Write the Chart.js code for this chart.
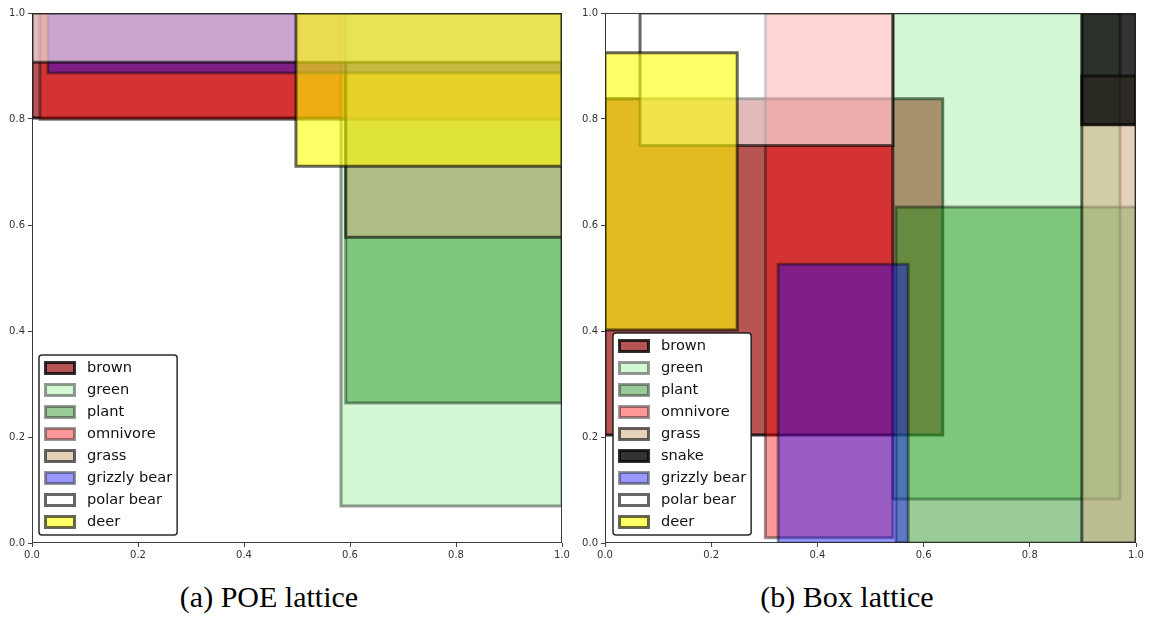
<!DOCTYPE html>
<html>
<head>
<meta charset="utf-8">
<script src="https://cdn.jsdelivr.net/npm/chart.js@4/dist/chart.umd.min.js"></script>
<style>
  html, body { margin: 0; padding: 0; background: #fff; }
  body { width: 1152px; height: 618px; position: relative; overflow: hidden; }
  .panel { position: absolute; top: 0; width: 576px; height: 570px; }
  .caption {
    position: absolute; top: 581px;
    font-family: "Liberation Serif", "Times New Roman", serif;
    font-size: 30px; line-height: 32px; color: #000;
    white-space: nowrap; transform: translateX(-50%);
  }
</style>
</head>
<body>
<div class="panel" style="left:0"><canvas id="poe" width="576" height="570"></canvas></div>
<div class="panel" style="left:576px"><canvas id="box" width="576" height="570"></canvas></div>
<div class="caption" style="left:269px">(a) POE lattice</div>
<div class="caption" style="left:847px">(b) Box lattice</div>
<script>
// Left panel: order-embedding cones; each one runs from its lower-left corner up to (1, 1)
const poeLabels = ['brown', 'green', 'plant', 'omnivore', 'grass', 'grizzly bear', 'polar bear', 'deer'];
const poeXMin = [0.000, 0.583, 0.592, 0.015, 0.592, 0.030, 0.000, 0.498];
const poeYMin = [0.802, 0.070, 0.264, 0.799, 0.577, 0.887, 0.907, 0.711];

// Right panel: axis-aligned boxes
const boxLabels = ['brown', 'green', 'plant', 'omnivore', 'grass', 'snake', 'grizzly bear', 'polar bear', 'deer'];
const boxXMin = [0.000, 0.542, 0.548, 0.302, 0.898, 0.898, 0.326, 0.066, 0.000];
const boxXMax = [0.636, 0.970, 1.000, 0.542, 1.000, 1.000, 0.571, 0.542, 0.249];
const boxYMin = [0.204, 0.083, 0.000, 0.010, 0.000, 0.789, 0.000, 0.750, 0.402];
const boxYMax = [0.838, 1.000, 0.634, 1.000, 0.881, 1.000, 0.526, 1.000, 0.925];

// Shared axis ticks
const axisTicks = [0, 0.2, 0.4, 0.6, 0.8, 1.0];
const tickLabels = ['0.0', '0.2', '0.4', '0.6', '0.8', '1.0'];

// Face colour and opacity per concept (edges are black at the same opacity)
const STYLE = {
  'brown':        { rgb: [165, 42, 42],   a: 0.8 },
  'green':        { rgb: [144, 238, 144], a: 0.4 },
  'plant':        { rgb: [0, 128, 0],     a: 0.4 },
  'omnivore':     { rgb: [255, 0, 0],     a: 0.4 },
  'grass':        { rgb: [210, 180, 140], a: 0.6 },
  'snake':        { rgb: [0, 0, 0],       a: 0.8 },
  'grizzly bear': { rgb: [0, 0, 255],     a: 0.4 },
  'polar bear':   { rgb: [255, 255, 255], a: 0.6 },
  'deer':         { rgb: [255, 255, 0],   a: 0.6 }
};
const faceColor = (label) => {
  const s = STYLE[label];
  return `rgba(${s.rgb[0]},${s.rgb[1]},${s.rgb[2]},${s.a})`;
};
const edgeColor = (label) => `rgba(0,0,0,${STYLE[label].a})`;

// One closed rectangle outline per concept, filled inside its own shape.
// Later concepts are painted on top of earlier ones.
function rectDataset(label, x0, x1, y0, y1, i, n) {
  return {
    label,
    data: [
      { x: x0, y: y0 }, { x: x1, y: y0 }, { x: x1, y: y1 },
      { x: x0, y: y1 }, { x: x0, y: y0 }
    ],
    fill: 'shape',
    backgroundColor: faceColor(label),
    borderColor: edgeColor(label),
    borderWidth: 3,
    borderJoinStyle: 'miter',
    borderCapStyle: 'square',
    pointRadius: 0,
    pointHoverRadius: 0,
    tension: 0,
    clip: 0,
    order: n - i
  };
}

const poeSets = poeLabels.map((lab, i) =>
  rectDataset(lab, poeXMin[i], 1, poeYMin[i], 1, i, poeLabels.length));
const boxSets = boxLabels.map((lab, i) =>
  rectDataset(lab, boxXMin[i], boxXMax[i], boxYMin[i], boxYMax[i], i, boxLabels.length));

// Thin frame around the plotting area, drawn above the rectangles
const framePlugin = {
  id: 'frame',
  afterDatasetsDraw(chart) {
    const { ctx, chartArea: a } = chart;
    ctx.save();
    ctx.strokeStyle = 'rgba(40,40,40,0.9)';
    ctx.lineWidth = 1;
    ctx.strokeRect(a.left + 0.5, a.top + 0.5, a.right - a.left - 1, a.bottom - a.top - 1);
    ctx.restore();
  }
};

// Legend box in the lower-left corner of the plotting area
const cornerLegend = {
  id: 'cornerLegend',
  afterDraw(chart, args, opts) {
    const { ctx, chartArea: a } = chart;
    const items = chart.data.datasets.map(d => d.label);
    const rowH = 22;
    ctx.save();
    ctx.font = '14.6px "DejaVu Sans"';
    const textW = Math.max(...items.map(t => ctx.measureText(t).width));
    const w = 48 + textW + 5;
    const h = items.length * rowH + 4;
    const x = a.left + opts.offsetX;
    const y = a.bottom - opts.offsetY - h;

    ctx.beginPath();
    ctx.roundRect(x, y, w, h, 3);
    ctx.fillStyle = '#ffffff';
    ctx.fill();
    ctx.lineWidth = 1.5;
    ctx.strokeStyle = 'rgba(20,20,20,0.9)';
    ctx.stroke();

    items.forEach((t, i) => {
      const cy = y + 2 + rowH * i + rowH / 2;
      ctx.beginPath();
      ctx.rect(x + 6.5, cy - 5.5, 29, 11);
      ctx.fillStyle = faceColor(t);
      ctx.fill();
      ctx.lineWidth = 3;
      ctx.strokeStyle = edgeColor(t);
      ctx.stroke();
      ctx.fillStyle = '#111';
      ctx.textBaseline = 'middle';
      ctx.textAlign = 'left';
      ctx.fillText(t, x + 48, cy + 0.5);
    });
    ctx.restore();
  }
};

function axisConfig(pos, fitSize) {
  return {
    type: 'linear',
    position: pos,
    min: 0,
    max: 1,
    afterBuildTicks: (s) => { s.ticks = axisTicks.map(v => ({ value: v })); },
    afterFit: (s) => {
      if (pos === 'left') s.width = fitSize; else s.height = fitSize;
    },
    ticks: {
      callback: (v, i) => tickLabels[i],
      font: { family: 'DejaVu Sans', size: 10 },
      color: '#333',
      padding: pos === 'left' ? 3 : 2,
      maxRotation: 0,
      autoSkip: false
    },
    grid: { drawOnChartArea: false, drawTicks: true, tickLength: 4, color: '#444', lineWidth: 1 },
    border: { display: false }
  };
}

function makeChart(id, datasets, yWidth, padRight, legendOffsetX) {
  return new Chart(document.getElementById(id), {
    type: 'line',
    data: { datasets },
    options: {
      responsive: false,
      animation: false,
      devicePixelRatio: 1,
      events: [],
      layout: { padding: { top: 13, right: padRight, left: 0, bottom: 0 } },
      scales: {
        x: axisConfig('bottom', 27),
        y: axisConfig('left', yWidth)
      },
      plugins: {
        legend: { display: false },
        tooltip: { enabled: false },
        cornerLegend: { offsetX: legendOffsetX, offsetY: 8 }
      }
    },
    plugins: [framePlugin, cornerLegend]
  });
}

makeChart('poe', poeSets, 32, 14, 7);
makeChart('box', boxSets, 29, 16, 8);
</script>
</body>
</html>
